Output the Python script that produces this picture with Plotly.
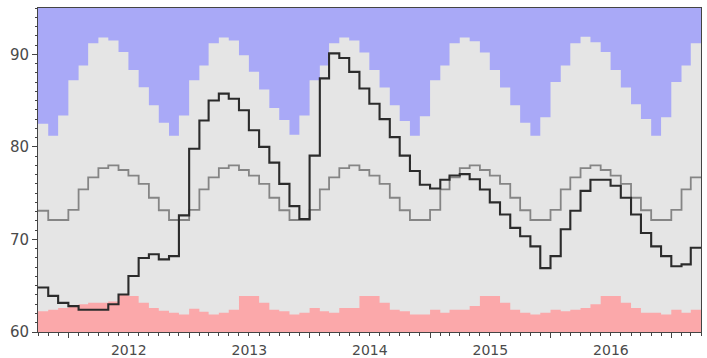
import pandas as pd
import plotly.graph_objects as go

# Monthly values, Oct 2011 .. Mar 2017 (one row per calendar year)
upper_band = [
    82.5, 81.2, 83.4,
    87.2, 88.8, 91.2, 91.8, 91.5, 90.25, 88.3, 86.45, 84.5, 82.6, 81.2, 83.4,
    87.2, 88.8, 91.2, 91.8, 91.5, 89.9, 88.1, 86.2, 84.2, 82.9, 81.3, 83.4,
    87.2, 88.8, 91.2, 91.8, 91.5, 90.2, 88.3, 86.4, 84.5, 82.8, 81.2, 83.3,
    87.2, 88.8, 91.2, 91.8, 91.4, 90.2, 88.3, 86.4, 84.5, 82.6, 81.2, 83.2,
    87.0, 88.8, 91.2, 91.9, 91.3, 90.25, 88.3, 86.4, 84.6, 83.0, 81.2, 83.2,
    87.0, 88.8, 91.2,
]

lower_band = [
    62.25, 62.4, 62.6,
    62.8, 63.0, 63.15, 63.15, 63.3, 64.05, 63.9, 63.15, 62.6, 62.3, 62.07, 61.9,
    62.5, 62.2, 61.9, 62.07, 62.4, 63.9, 63.9, 63.15, 62.4, 62.25, 61.9, 62.07,
    62.6, 62.25, 62.07, 62.6, 62.6, 63.9, 63.9, 63.15, 62.4, 62.25, 61.9, 61.9,
    62.4, 62.07, 62.4, 62.4, 62.8, 63.9, 63.9, 63.15, 62.4, 62.07, 61.9, 62.07,
    62.4, 62.25, 62.4, 62.6, 63.0, 63.9, 63.9, 63.15, 62.6, 62.07, 62.07, 61.9,
    62.4, 62.07, 62.4,
]

average = [
    73.1, 72.1, 72.1,
    73.2, 75.4, 76.7, 77.7, 78.0, 77.5, 76.9, 76.0, 74.5, 73.15, 72.1, 72.1,
    73.2, 75.4, 76.7, 77.7, 78.0, 77.5, 76.9, 76.0, 74.5, 73.15, 72.1, 72.1,
    73.2, 75.4, 76.7, 77.7, 78.0, 77.5, 76.9, 76.0, 74.5, 73.15, 72.1, 72.1,
    73.2, 75.4, 76.7, 77.7, 78.0, 77.5, 76.9, 76.0, 74.5, 73.15, 72.1, 72.1,
    73.2, 75.4, 76.7, 77.7, 78.0, 77.5, 76.9, 76.0, 74.5, 73.15, 72.1, 72.1,
    73.2, 75.4, 76.7,
]

level = [
    64.8, 63.9, 63.15,
    62.8, 62.4, 62.4, 62.4, 63.0, 64.05, 66.05, 68.0, 68.4, 67.85, 68.2, 72.6,
    79.8, 82.85, 85.0, 85.75, 85.2, 83.95, 81.8, 80.0, 78.3, 76.0, 73.6, 72.2,
    79.05, 87.4, 90.1, 89.6, 88.1, 86.3, 84.65, 83.0, 81.05, 79.05, 77.4, 75.9,
    75.5, 76.45, 76.9, 77.05, 76.5, 75.4, 74.0, 72.7, 71.25, 70.35, 69.25, 66.9,
    68.2, 71.1, 73.1, 75.25, 76.45, 76.45, 75.8, 74.5, 72.7, 70.7, 69.25, 68.2,
    67.1, 67.3, 69.1,
]

y_ticks = [60, 70, 80, 90]

start, end = "2011-10-01", "2017-04-01"
months = list(pd.date_range(start, periods=len(level), freq="MS")) + [pd.Timestamp(end)]


def held(values):
    # repeat the last month so the step reaches the end of its month
    return list(values) + [values[-1]]


BLUE = "#a9a9f7"
GREY_FILL = "#e5e5e5"
PINK = "#fba8aa"

fig = go.Figure()
fig.add_trace(go.Scatter(
    x=months, y=held(upper_band), mode="lines",
    line=dict(shape="hv", width=0, color=GREY_FILL),
    fill="tozeroy", fillcolor=GREY_FILL, hoverinfo="skip"))
fig.add_trace(go.Scatter(
    x=months, y=held(lower_band), mode="lines",
    line=dict(shape="hv", width=0, color=PINK),
    fill="tozeroy", fillcolor=PINK, hoverinfo="skip"))
fig.add_trace(go.Scatter(
    x=months, y=held(average), mode="lines",
    line=dict(shape="hv", width=1.8, color="#858585")))
fig.add_trace(go.Scatter(
    x=months, y=held(level), mode="lines",
    line=dict(shape="hv", width=2.1, color="#2b2b2b")))

y_font = dict(family="DejaVu Sans", size=15, color="#4a4a4a")
x_font = dict(family="DejaVu Sans", size=14, color="#4a4a4a")

fig.update_layout(
    width=707, height=358,
    margin=dict(l=38, r=6, t=8, b=26),
    paper_bgcolor="white",
    plot_bgcolor=BLUE,
    showlegend=False,
    xaxis=dict(
        type="date", range=[start, end],
        tick0="2012-01-01", dtick="M12", tickformat="%Y",
        ticklabelmode="period", automargin=False,
        ticks="outside", ticklen=5, tickwidth=1, tickcolor="#444444",
        showline=True, mirror=True, linecolor="#444444", linewidth=1,
        showgrid=False, zeroline=False, tickfont=x_font,
        minor=dict(dtick="M1", ticks="outside", ticklen=3,
                   tickcolor="#444444", showgrid=False),
    ),
    yaxis=dict(
        range=[60, 95], tickvals=y_ticks, automargin=False,
        ticks="outside", ticklen=5, tickwidth=1, tickcolor="#444444",
        showline=True, mirror=True, linecolor="#444444", linewidth=1,
        showgrid=False, zeroline=False, tickfont=y_font,
        minor=dict(dtick=1, ticks="outside", ticklen=2,
                   tickcolor="#444444", showgrid=False),
    ),
)

fig.write_html("out.html")
